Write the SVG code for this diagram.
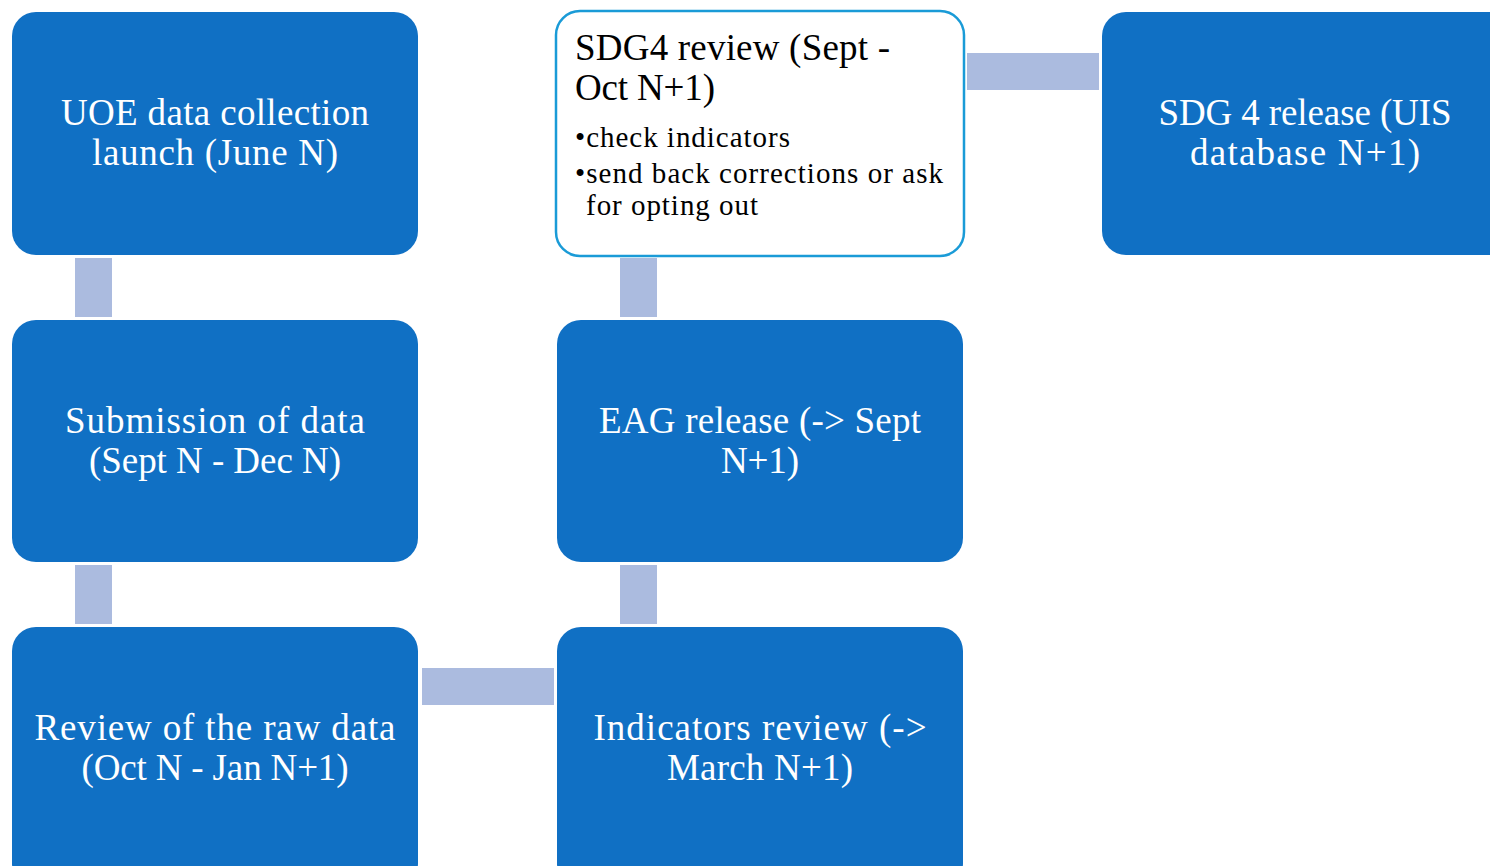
<svg xmlns="http://www.w3.org/2000/svg" width="1490" height="866" viewBox="0 0 1490 866">
<style>
.n{fill:#1070c4}
.c{fill:#abbbdf}
.t{font-family:"Liberation Serif",serif;font-size:37px;fill:#ffffff;text-anchor:middle}
.k{font-family:"Liberation Serif",serif;fill:#000000}
</style>
<rect width="1490" height="866" fill="#ffffff"/>
<g id="connectors">
<rect class="c" x="75" y="258" width="37" height="59"/>
<rect class="c" x="75" y="565" width="37" height="59"/>
<rect class="c" x="422" y="668" width="132" height="37"/>
<rect class="c" x="620" y="565" width="37" height="59"/>
<rect class="c" x="620" y="258" width="37" height="59"/>
<rect class="c" x="967" y="53" width="132" height="37"/>
</g>
<g id="n1">
<rect class="n" x="12" y="12" width="406" height="243" rx="24"/>
<text class="t" x="215" y="125" textLength="308" lengthAdjust="spacing">UOE data collection</text>
<text class="t" x="215" y="165" textLength="246" lengthAdjust="spacing">launch (June N)</text>
</g>
<g id="n2">
<rect class="n" x="12" y="320" width="406" height="242" rx="24"/>
<text class="t" x="215" y="433" textLength="300" lengthAdjust="spacing">Submission of data</text>
<text class="t" x="215" y="473" textLength="252" lengthAdjust="spacing">(Sept N - Dec N)</text>
</g>
<g id="n3">
<rect class="n" x="12" y="627" width="406" height="260" rx="24"/>
<text class="t" x="215" y="740" textLength="361" lengthAdjust="spacing">Review of the raw data</text>
<text class="t" x="215" y="780" textLength="267" lengthAdjust="spacing">(Oct N - Jan N+1)</text>
</g>
<g id="n4">
<rect class="n" x="557" y="627" width="406" height="260" rx="24"/>
<text class="t" x="760" y="740" textLength="333" lengthAdjust="spacing">Indicators review (-&gt;</text>
<text class="t" x="760" y="780" textLength="186" lengthAdjust="spacing">March N+1)</text>
</g>
<g id="n5">
<rect class="n" x="557" y="320" width="406" height="242" rx="24"/>
<text class="t" x="760" y="433" textLength="322" lengthAdjust="spacing">EAG release (-&gt; Sept</text>
<text class="t" x="760" y="473" textLength="78" lengthAdjust="spacing">N+1)</text>
</g>
<g id="n6">
<rect x="556" y="11" width="408" height="245" rx="24" fill="#ffffff" stroke="#1a9bd7" stroke-width="2.5"/>
<text class="k" x="575" y="60" font-size="37" textLength="315" lengthAdjust="spacing">SDG4 review (Sept -</text>
<text class="k" x="575" y="100" font-size="37" textLength="140" lengthAdjust="spacing">Oct N+1)</text>
<text class="k" x="575" y="147" font-size="29" textLength="215" lengthAdjust="spacing">•check indicators</text>
<text class="k" x="575" y="183" font-size="29" textLength="368" lengthAdjust="spacing">•send back corrections or ask</text>
<text class="k" x="586" y="215" font-size="29" textLength="172" lengthAdjust="spacing">for opting out</text>
</g>
<g id="n7">
<rect class="n" x="1102" y="12" width="420" height="243" rx="24"/>
<text class="t" x="1305" y="125" textLength="293" lengthAdjust="spacing">SDG 4 release (UIS</text>
<text class="t" x="1305" y="165" textLength="230" lengthAdjust="spacing">database N+1)</text>
</g>
</svg>
